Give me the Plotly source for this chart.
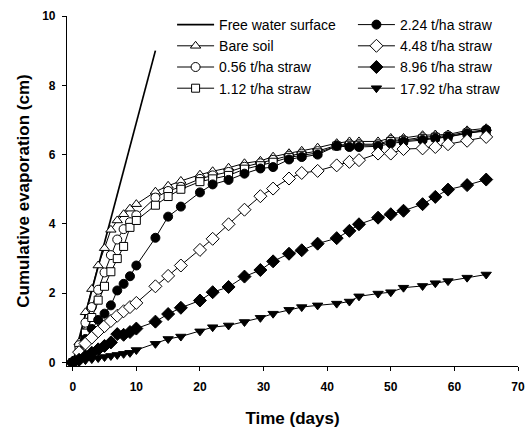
import plotly.graph_objects as go

days = [0, 1, 2, 3, 4, 5, 6, 7, 8, 9, 10, 13, 15, 17, 20, 22, 24.5, 27, 29.5, 31.5,
        34, 36, 38.5, 41.5, 43.5, 45, 48, 50, 52, 55, 57, 59, 62, 65]

free_water_x = [0, 13]
free_water_y = [0, 9]

bare_soil = [0, 0.58, 1.45, 2.12, 2.8, 3.3, 3.83, 4.1, 4.28, 4.44, 4.57, 4.93, 5.1, 5.24,
             5.42, 5.52, 5.62, 5.75, 5.82, 5.94, 6.04, 6.11, 6.2, 6.33, 6.38, 6.38, 6.38,
             6.48, 6.48, 6.56, 6.58, 6.58, 6.7, 6.76]
straw_056 = [0, 0.5, 1.15, 1.6, 2.1, 2.6, 3.1, 3.55, 3.85, 4.05, 4.25, 4.76, 4.95, 5.07,
             5.3, 5.4, 5.5, 5.65, 5.75, 5.85, 5.97, 6.03, 6.1, 6.27, 6.3, 6.3, 6.3, 6.42,
             6.42, 6.5, 6.52, 6.55, 6.65, 6.72]
straw_112 = [0, 0.35, 0.85, 1.3, 1.8, 2.2, 2.62, 3.0, 3.35, 3.9, 4.1, 4.54, 4.79, 5.0,
             5.22, 5.3, 5.4, 5.58, 5.68, 5.78, 5.92, 5.98, 6.05, 6.25, 6.27, 6.27, 6.27,
             6.38, 6.4, 6.46, 6.5, 6.52, 6.62, 6.68]
straw_224 = [0, 0.3, 0.68, 0.97, 1.23, 1.41, 1.65, 2.08, 2.27, 2.49, 2.8, 3.6, 4.21, 4.5,
             4.91, 5.14, 5.27, 5.45, 5.6, 5.64, 5.86, 5.93, 6.0, 6.25, 6.22, 6.22, 6.24,
             6.32, 6.37, 6.42, 6.47, 6.51, 6.61, 6.71]
straw_448 = [0, 0.3, 0.55, 0.72, 0.9, 1.05, 1.2, 1.35, 1.48, 1.6, 1.72, 2.2, 2.5, 2.8,
             3.25, 3.57, 3.99, 4.41, 4.8, 5.02, 5.31, 5.47, 5.53, 5.69, 5.79, 5.84, 6.03,
             6.03, 6.16, 6.18, 6.22, 6.3, 6.4, 6.51]
straw_896 = [0, 0.08, 0.18, 0.28, 0.38, 0.48, 0.58, 0.82, 0.8, 0.88, 0.98, 1.18, 1.4,
             1.58, 1.79, 2.03, 2.18, 2.48, 2.67, 2.92, 3.14, 3.24, 3.43, 3.59, 3.8, 3.99,
             4.18, 4.28, 4.38, 4.57, 4.78, 4.99, 5.12, 5.28]
straw_1792 = [0, 0.03, 0.07, 0.1, 0.13, 0.16, 0.19, 0.22, 0.25, 0.28, 0.36, 0.54, 0.68,
              0.75, 0.9, 1.02, 1.07, 1.17, 1.29, 1.41, 1.52, 1.6, 1.65, 1.7, 1.76, 1.91,
              1.99, 2.03, 2.16, 2.21, 2.29, 2.35, 2.45, 2.54]

FONT = "Arial, 'Liberation Sans', sans-serif"

fig = go.Figure()

fig.add_trace(go.Scatter(x=free_water_x, y=free_water_y, mode="lines",
                         name="Free water surface", legend="legend",
                         line=dict(color="black", width=1.7)))

series = [
    ("Bare soil", bare_soil, "triangle-up", "white", 9, "legend"),
    ("0.56 t/ha straw", straw_056, "circle", "white", 9, "legend"),
    ("1.12 t/ha straw", straw_112, "square", "white", 8, "legend"),
    ("2.24 t/ha straw", straw_224, "circle", "black", 9, "legend2"),
    ("4.48 t/ha straw", straw_448, "diamond", "white", 10, "legend2"),
    ("8.96 t/ha straw", straw_896, "diamond", "black", 10, "legend2"),
    ("17.92 t/ha straw", straw_1792, "triangle-down", "black", 9, "legend2"),
]

for name, vals, sym, fill, size, lg in series:
    fig.add_trace(go.Scatter(
        x=days, y=vals, mode="lines+markers", name=name, legend=lg,
        line=dict(color="black", width=1),
        marker=dict(symbol=sym, size=size, color=fill,
                    line=dict(color="black", width=1)),
    ))

axis_common = dict(
    showline=True, linecolor="black", linewidth=1.2,
    ticks="outside", ticklen=4, tickwidth=1.2, tickcolor="black",
    showgrid=False, zeroline=False, automargin=False,
    tickfont=dict(family=FONT, size=12, color="black", weight="bold"),
)

legend_common = dict(
    xanchor="left", yanchor="top", bgcolor="rgba(0,0,0,0)",
    font=dict(family=FONT, size=14, color="black"),
    tracegroupgap=0, itemwidth=37,
)

fig.update_layout(
    width=527, height=428,
    margin=dict(l=67, r=9, t=16, b=62),
    paper_bgcolor="white", plot_bgcolor="white",
    font=dict(family=FONT, color="black"),
    xaxis=dict(range=[-0.9, 70], tickvals=[0, 10, 20, 30, 40, 50, 60, 70],
               ticklabelstandoff=5,
               title=dict(text="Time (days)", standoff=19,
                          font=dict(family=FONT, size=17, weight="bold")),
               **axis_common),
    yaxis=dict(range=[-0.1, 10], tickvals=[0, 2, 4, 6, 8, 10],
               ticklabelstandoff=4,
               title=dict(text="Cumulative evaporation (cm)", standoff=8,
                          font=dict(family=FONT, size=17, weight="bold")),
               **axis_common),
    legend=dict(x=0.233, y=1.02, **legend_common),
    legend2=dict(x=0.634, y=1.02, **legend_common),
    showlegend=True,
)

fig.write_html("out.html", config={"displayModeBar": False},
               post_script="document.body.style.margin='0px';")
